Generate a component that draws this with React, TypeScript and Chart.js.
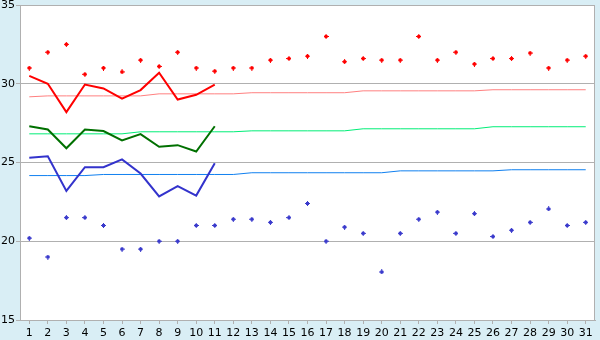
import React, { useEffect, useRef } from "react";
import { Chart, registerables } from "chart.js";

Chart.register(...registerables);

const days = ["1","2","3","4","5","6","7","8","9","10","11","12","13","14","15","16","17","18","19","20","21","22","23","24","25","26","27","28","29","30","31"];
const yTickValues = [15, 20, 25, 30, 35];

const redPoints = [31.0,32.0,32.5,30.6,31.0,30.75,31.5,31.1,32.0,31.0,30.8,31.0,31.0,31.5,31.6,31.75,33.0,31.4,31.6,31.5,31.5,33.0,31.5,32.0,31.25,31.6,31.6,31.95,31.0,31.5,31.75];
const bluePoints = [20.2,19.0,21.5,21.5,21.0,19.5,19.5,20.0,20.0,21.0,21.0,21.4,21.4,21.2,21.5,22.4,20.0,20.9,20.5,18.05,20.5,21.4,21.85,20.5,21.75,20.3,20.7,21.2,22.05,21.0,21.2];

const redLine = [30.5,30.0,28.2,29.95,29.7,29.05,29.6,30.7,29.0,29.3,29.95];
const greenLine = [27.3,27.1,25.9,27.1,27.0,26.4,26.8,26.0,26.1,25.7,27.3];
const blueLine = [25.3,25.4,23.2,24.7,24.7,25.2,24.3,22.85,23.5,22.9,24.95];

const pinkTrend = [29.17,29.23,29.23,29.23,29.23,29.23,29.23,29.36,29.36,29.36,29.36,29.36,29.43,29.43,29.43,29.43,29.43,29.43,29.55,29.55,29.55,29.55,29.55,29.55,29.55,29.62,29.62,29.62,29.62,29.62,29.62];
const lightGreenTrend = [26.82,26.82,26.82,26.82,26.82,26.82,26.95,26.95,26.95,26.95,26.95,26.95,27.01,27.01,27.01,27.01,27.01,27.01,27.14,27.14,27.14,27.14,27.14,27.14,27.14,27.27,27.27,27.27,27.27,27.27,27.27];
const lightBlueTrend = [24.17,24.17,24.17,24.17,24.24,24.24,24.24,24.24,24.24,24.24,24.24,24.24,24.35,24.35,24.35,24.35,24.35,24.35,24.35,24.35,24.47,24.47,24.47,24.47,24.47,24.47,24.54,24.54,24.54,24.54,24.54];

const GRID = "#b0b0b0";
const BG = "#d9eef5";

const MARK = ["..X..", ".XXX.", "XXXXX", ".XXX.", "..X.."];

function makeMarker(color: string): HTMLCanvasElement {
  const c = document.createElement("canvas");
  c.width = 5;
  c.height = 5;
  const g = c.getContext("2d")!;
  g.fillStyle = color;
  MARK.forEach((row, y) => {
    for (let x = 0; x < row.length; x++) if (row[x] === "X") g.fillRect(x, y, 1, 1);
  });
  return c;
}

const framePlugin = {
  id: "frame",
  beforeDraw(chart: any) {
    const { ctx, width, height, chartArea } = chart;
    const { left, top, right, bottom } = chartArea;
    ctx.save();
    ctx.fillStyle = BG;
    ctx.fillRect(0, 0, width, height);
    ctx.fillStyle = "#ffffff";
    ctx.fillRect(left, top, right - left, bottom - top);
    ctx.restore();
  },
  beforeDatasetsDraw(chart: any) {
    const { ctx, chartArea } = chart;
    const { top, right, bottom } = chartArea;
    ctx.save();
    ctx.strokeStyle = GRID;
    ctx.lineWidth = 1;
    ctx.beginPath();
    ctx.moveTo(Math.round(right) - 0.5, top);
    ctx.lineTo(Math.round(right) - 0.5, bottom);
    ctx.stroke();
    ctx.restore();
  },
};

export default function App() {
  const ref = useRef<HTMLCanvasElement | null>(null);

  useEffect(() => {
    document.body.style.margin = "0";
    const canvas = ref.current;
    if (!canvas) return;
    const pointDs = (data: number[], color: string) => ({
      data,
      showLine: false,
      borderColor: color,
      backgroundColor: color,
      pointStyle: makeMarker(color),
      pointRadius: 3,
      pointHoverRadius: 3,
      order: 1,
    });
    const lineDs = (data: number[], color: string, width: number, order: number) => ({
      data,
      borderColor: color,
      backgroundColor: color,
      borderWidth: width,
      pointRadius: 0,
      pointHoverRadius: 0,
      tension: 0,
      fill: false,
      order,
    });
    const chart = new Chart(canvas, {
      type: "line",
      data: {
        labels: days,
        datasets: [
          pointDs(redPoints, "#ff0000") as any,
          pointDs(bluePoints, "#3a3acc") as any,
          lineDs(redLine, "#ff0000", 2, 2),
          lineDs(greenLine, "#007000", 2, 2),
          lineDs(blueLine, "#3333cc", 2, 2),
          lineDs(pinkTrend, "#ff8080", 1, 3),
          lineDs(lightGreenTrend, "#00ee77", 1, 3),
          lineDs(lightBlueTrend, "#1080f0", 1, 3),
        ],
      },
      options: {
        animation: false,
        responsive: false,
        devicePixelRatio: 1,
        layout: { padding: { top: 5, right: 5, left: 0, bottom: 0 } },
        plugins: { legend: { display: false }, tooltip: { enabled: false } },
        scales: {
          x: {
            type: "category",
            offset: true,
            grid: { display: true, drawOnChartArea: false, drawTicks: true, tickLength: 4, color: GRID },
            border: { display: true, color: GRID },
            ticks: {
              color: "#000",
              font: { family: "DejaVu Sans", size: 11 },
              padding: 3,
              maxRotation: 0,
              autoSkip: false,
            },
            afterFit: (s: any) => {
              s.height = 20;
              s.paddingLeft = 0;
              s.paddingRight = 0;
            },
          },
          y: {
            min: 15,
            max: 35,
            afterBuildTicks: (s: any) => {
              s.ticks = yTickValues.map((v) => ({ value: v }));
            },
            grid: { color: GRID, tickLength: 4 },
            border: { display: true, color: GRID },
            ticks: {
              color: "#000",
              font: { family: "DejaVu Sans", size: 11 },
              padding: 1,
            },
            afterFit: (s: any) => {
              s.width = 20;
              s.paddingTop = 0;
              s.paddingBottom = 0;
            },
          },
        },
      },
      plugins: [framePlugin],
    });
    return () => chart.destroy();
  }, []);

  return (
    <div style={{ width: 600, height: 340 }}>
      <canvas ref={ref} width={600} height={340} style={{ display: "block" }} />
    </div>
  );
}
